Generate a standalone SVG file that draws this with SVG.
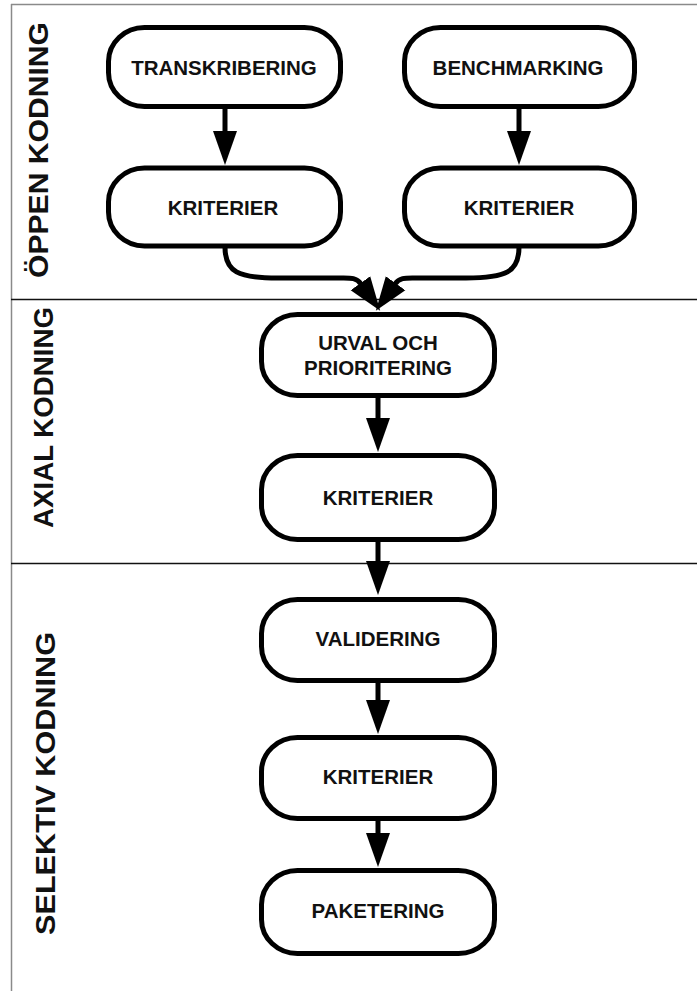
<svg xmlns="http://www.w3.org/2000/svg" width="697" height="991" viewBox="0 0 697 991">
  <style>
    .box { fill: #ffffff; stroke: #000000; stroke-width: 5; }
    .lbl { font-family: "Liberation Sans", Arial, sans-serif; font-weight: bold; font-size: 20.5px; fill: #111111; text-anchor: middle; }
    .phase { font-family: "Liberation Sans", Arial, sans-serif; font-weight: bold; font-size: 28.5px; fill: #111111; text-anchor: middle; }
    .edge { fill: none; stroke: #000000; stroke-width: 5; }
    .frame { stroke: #8a8a8a; stroke-width: 1.5; fill: none; }
    .divider { stroke: #111111; stroke-width: 1.5; fill: none; }
  </style>
  <defs>
    <marker id="head" markerUnits="userSpaceOnUse" viewBox="0 -13 36 26" refX="1" refY="0" markerWidth="36" markerHeight="26" orient="auto">
      <path d="M0,-12 L34,0 L0,12 Z" fill="#000000"/>
    </marker>
  </defs>

  <rect width="697" height="991" fill="#ffffff"/>

  <!-- frame and phase dividers -->
  <g id="frame">
    <line class="frame" x1="11" y1="4.5" x2="697" y2="4.5"/>
    <line class="frame" x1="11.5" y1="4" x2="11.5" y2="991"/>
    <line class="divider" x1="11" y1="299.5" x2="697" y2="299.5"/>
    <line class="divider" x1="11" y1="563.5" x2="697" y2="563.5"/>
  </g>

  <!-- phase labels -->
  <g id="phase-open">
    <text class="phase" x="48" y="150" transform="rotate(-90 48 150)" textLength="256" lengthAdjust="spacingAndGlyphs">ÖPPEN KODNING</text>
  </g>
  <g id="phase-axial">
    <text class="phase" x="53" y="417.5" transform="rotate(-90 53 417.5)" textLength="221" lengthAdjust="spacingAndGlyphs">AXIAL KODNING</text>
  </g>
  <g id="phase-selective">
    <text class="phase" x="55" y="783.5" transform="rotate(-90 55 783.5)" textLength="303" lengthAdjust="spacingAndGlyphs">SELEKTIV KODNING</text>
  </g>

  <!-- connectors -->
  <g id="connectors">
    <path class="edge" d="M225,108 L225,132" marker-end="url(#head)"/>
    <path class="edge" d="M519,108 L519,132" marker-end="url(#head)"/>
    <path class="edge" d="M225,247 C225,272 238,278 278,278 L338,278 C350,278 356,277 361,284" marker-end="url(#head)"/>
    <path class="edge" d="M519,247 C519,272 506,278 466,278 L418,278 C406,278 400,277 395,284" marker-end="url(#head)"/>
    <path class="edge" d="M378,397 L378,419" marker-end="url(#head)"/>
    <path class="edge" d="M378,540 L378,562" marker-end="url(#head)"/>
    <path class="edge" d="M378,681 L378,701" marker-end="url(#head)"/>
    <path class="edge" d="M378,820 L378,834" marker-end="url(#head)"/>
  </g>

  <!-- nodes -->
  <g id="transkribering">
    <rect class="box" x="108.5" y="27.5" width="232" height="79" rx="36" ry="34"/>
    <text class="lbl" x="224" y="75">TRANSKRIBERING</text>
  </g>
  <g id="benchmarking">
    <rect class="box" x="404.5" y="27.5" width="230" height="79" rx="36" ry="34"/>
    <text class="lbl" x="518" y="75">BENCHMARKING</text>
  </g>
  <g id="kriterier-open-1">
    <rect class="box" x="108.5" y="168" width="232" height="78" rx="36" ry="34"/>
    <text class="lbl" x="223" y="215">KRITERIER</text>
  </g>
  <g id="kriterier-open-2">
    <rect class="box" x="404.5" y="168" width="230" height="78" rx="36" ry="34"/>
    <text class="lbl" x="519" y="215">KRITERIER</text>
  </g>
  <g id="urval">
    <rect class="box" x="261.5" y="314.5" width="233" height="81" rx="36" ry="34"/>
    <text class="lbl" x="378" y="350">URVAL OCH</text>
    <text class="lbl" x="378" y="375">PRIORITERING</text>
  </g>
  <g id="kriterier-axial">
    <rect class="box" x="261.5" y="455.5" width="233" height="84" rx="36" ry="34"/>
    <text class="lbl" x="378" y="505">KRITERIER</text>
  </g>
  <g id="validering">
    <rect class="box" x="261.5" y="599.5" width="233" height="81" rx="36" ry="34"/>
    <text class="lbl" x="378" y="646">VALIDERING</text>
  </g>
  <g id="kriterier-selective">
    <rect class="box" x="261.5" y="737.5" width="233" height="81" rx="36" ry="34"/>
    <text class="lbl" x="378" y="784">KRITERIER</text>
  </g>
  <g id="paketering">
    <rect class="box" x="261.5" y="870.5" width="233" height="83" rx="36" ry="34"/>
    <text class="lbl" x="378" y="918">PAKETERING</text>
  </g>
</svg>
